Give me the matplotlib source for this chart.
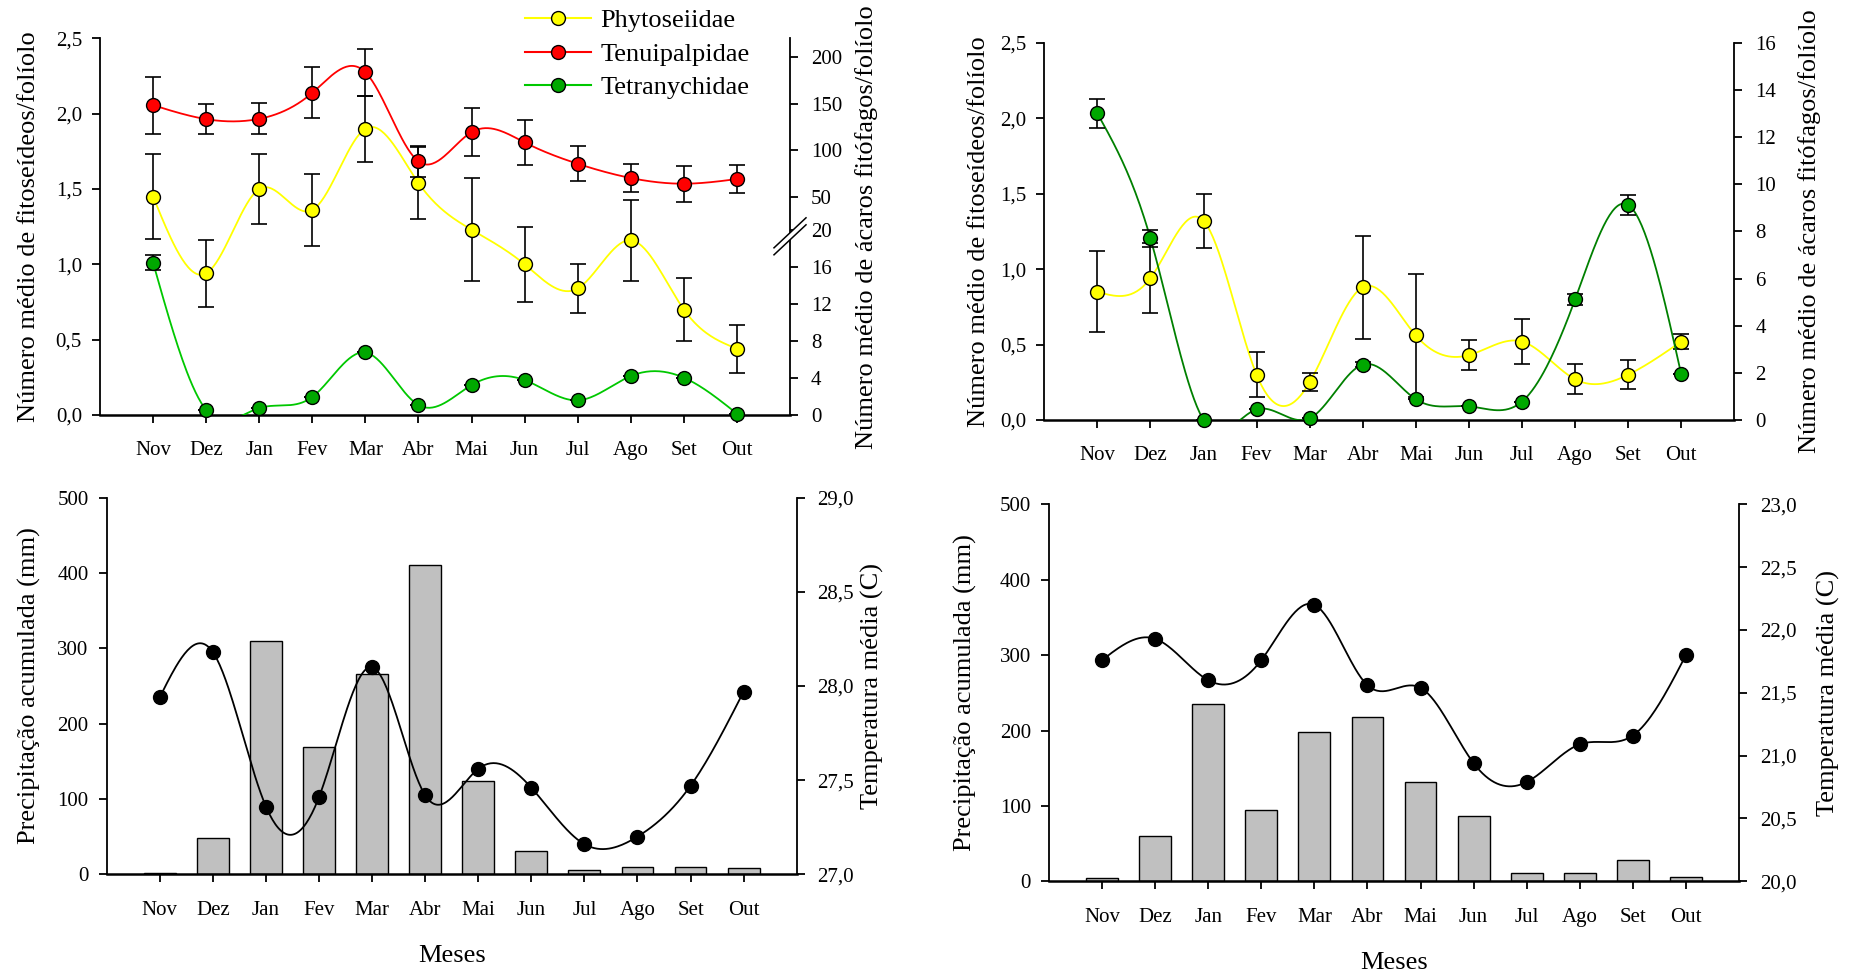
import numpy as np
import matplotlib
matplotlib.use('Agg')
import matplotlib.pyplot as plt
from matplotlib.ticker import FuncFormatter, FixedLocator
from matplotlib.lines import Line2D
from matplotlib.patches import Polygon

plt.rcParams['font.family'] = ['Liberation Serif', 'DejaVu Serif']

# ---------------- data ----------------
months = ['Nov', 'Dez', 'Jan', 'Fev', 'Mar', 'Abr', 'Mai', 'Jun', 'Jul', 'Ago', 'Set', 'Out']

# top-left panel
tl_phyto = [1.45, 0.94, 1.50, 1.36, 1.90, 1.54, 1.23, 1.00, 0.84, 1.16, 0.70, 0.44]
tl_phyto_err = [0.285, 0.22, 0.23, 0.24, 0.22, 0.24, 0.34, 0.25, 0.16, 0.27, 0.21, 0.16]
tl_tenui = [148.6, 133.6, 133.9, 161.8, 183.9, 88.2, 119.6, 108.6, 85.7, 70.4, 64.3, 69.3]
tl_tenui_err = [30.7, 16.0, 16.5, 27.5, 25.0, 17.0, 26.0, 24.0, 18.6, 15.0, 19.0, 15.0]
tl_tetra = [16.5, 0.54, 0.76, 1.95, 6.77, 1.08, 3.24, 3.78, 1.59, 4.22, 4.04, 0.14]
tl_tetra_err = [0.8, 0, 0, 0, 0, 0, 0, 0, 0, 0, 0, 0]

# top-right panel
tr_phyto = [0.85, 0.94, 1.32, 0.30, 0.25, 0.88, 0.56, 0.43, 0.52, 0.27, 0.30, 0.52]
tr_phyto_err = [0.27, 0.23, 0.18, 0.15, 0.06, 0.34, 0.41, 0.10, 0.15, 0.10, 0.095, 0.05]
tr_tetra = [13.0, 7.7, 0.0, 0.45, 0.07, 2.35, 0.88, 0.58, 0.78, 5.11, 9.12, 1.94]
tr_tetra_err = [0.63, 0.35, 0, 0, 0, 0.1, 0, 0, 0, 0.25, 0.44, 0]

# bottom-left panel
bl_rain = [1.3, 47.7, 309.6, 169.6, 265.5, 410.8, 123.7, 31.4, 6.2, 10.2, 10.2, 8.4]
bl_temp = [27.94, 28.18, 27.36, 27.41, 28.10, 27.42, 27.56, 27.46, 27.16, 27.20, 27.47, 27.97]

# bottom-right panel
br_rain = [4.0, 59.7, 235.2, 94.6, 198.0, 218.0, 132.2, 86.6, 11.0, 11.0, 27.9, 6.2]
br_temp = [21.76, 21.93, 21.60, 21.76, 22.20, 21.56, 21.54, 20.94, 20.79, 21.09, 21.16, 21.80]

# ---------------- helpers ----------------
YEL = '#FFFF00'
RED = '#FF0000'
GRN = '#00A800'
GRN_L1 = '#00C800'
GRN_L2 = '#008000'

W, H = 1859, 971
fig = plt.figure(figsize=(W / 100, H / 100), dpi=100)


def rect(l, r, b, t):
    return [l / W, 1 - b / H, (r - l) / W, (b - t) / H]


def spline(x, y, num=400):
    x = np.asarray(x, float)
    y = np.asarray(y, float)
    n = len(x)
    h = np.diff(x)
    A = np.zeros((n, n))
    b = np.zeros(n)
    A[0, 0] = 1
    A[-1, -1] = 1
    for i in range(1, n - 1):
        A[i, i - 1] = h[i - 1]
        A[i, i] = 2 * (h[i - 1] + h[i])
        A[i, i + 1] = h[i]
        b[i] = 6 * ((y[i + 1] - y[i]) / h[i] - (y[i] - y[i - 1]) / h[i - 1])
    M = np.linalg.solve(A, b)
    xs = np.linspace(x[0], x[-1], num)
    idx = np.clip(np.searchsorted(x, xs) - 1, 0, n - 2)
    t0 = x[idx]
    t1 = x[idx + 1]
    hh = t1 - t0
    a = (t1 - xs) / hh
    bb = (xs - t0) / hh
    ys = a * y[idx] + bb * y[idx + 1] + ((a ** 3 - a) * M[idx] + (bb ** 3 - bb) * M[idx + 1]) * hh ** 2 / 6
    return xs, ys


comma1 = FuncFormatter(lambda v, p: f"{v:.1f}".replace('.', ','))
TICK_FS = 15
LAB_FS = 19


def base_style(ax, tw, lab_l, lab_r, px_l, px_r, l_px, r_px):
    for a in (ax, tw):
        a.spines['top'].set_visible(False)
        a.set_xlim(-1, 12)
        a.set_xticks(range(12))
    ax.spines['right'].set_visible(False)
    tw.spines['left'].set_visible(False)
    tw.spines['bottom'].set_visible(False)
    ax.spines['bottom'].set_linewidth(1.8)
    ax.spines['left'].set_linewidth(1.3)
    tw.spines['right'].set_linewidth(1.3)
    ax.set_xticklabels(months)
    ax.tick_params(axis='x', direction='out', length=6, width=1.3, pad=13, labelsize=TICK_FS)
    ax.tick_params(axis='y', direction='out', length=6, width=1.3, pad=7, labelsize=TICK_FS)
    tw.tick_params(axis='y', direction='out', length=6, width=1.3, pad=9, labelsize=TICK_FS)
    ax.set_ylabel(lab_l, fontsize=LAB_FS)
    tw.set_ylabel(lab_r, fontsize=LAB_FS)
    width = r_px - l_px
    ax.yaxis.set_label_coords((px_l + 14 - l_px) / width, 0.5)
    tw.yaxis.set_label_coords((px_r - 14 - l_px) / width, 0.5)


x = np.arange(12)

# ================= top-left =================
ax = fig.add_axes(rect(100, 790, 415, 38.3))
tw = ax.twinx()
BRK_V = np.array([-1000.0, 0.0, 20.0, 50.0, 200.0, 2000.0])
BRK_L = np.array([-61.285, 0.0, 1.2257, 1.4466, 2.3742, 13.505])
fwd = lambda v: np.interp(v, BRK_V, BRK_L)
inv = lambda u: np.interp(u, BRK_L, BRK_V)
tw.set_yscale('function', functions=(fwd, inv))
ax.set_ylim(0, 2.5)
tw.set_ylim(0, float(inv(2.5)))
ax.yaxis.set_major_locator(FixedLocator([0, 0.5, 1.0, 1.5, 2.0, 2.5]))
ax.yaxis.set_major_formatter(comma1)
tw.yaxis.set_major_locator(FixedLocator([0, 4, 8, 12, 16, 20, 50, 100, 150, 200]))
tw.yaxis.set_major_formatter(FuncFormatter(lambda v, p: f"{v:.0f}"))
tw.yaxis.set_minor_locator(FixedLocator([]))
base_style(ax, tw, 'Número médio de fitoseídeos/folíolo',
           'Número médio de ácaros fitófagos/folíolo', 26, 869, 100, 790)

xs, ys = spline(x, tl_phyto)
ax.plot(xs, ys, color=YEL, lw=1.3, zorder=2)
ax.errorbar(x, tl_phyto, yerr=tl_phyto_err, fmt='none', ecolor='k', elinewidth=1.2,
            capsize=5.5, capthick=1.2, zorder=3)
ax.plot(x, tl_phyto, 'o', ms=10, mfc=YEL, mec='k', mew=1.0, zorder=4, clip_on=False)

xs, ys = spline(x, tl_tenui)
tw.plot(xs, ys, color=RED, lw=1.3, zorder=2)
tw.errorbar(x, tl_tenui, yerr=tl_tenui_err, fmt='none', ecolor='k', elinewidth=1.2,
            capsize=5.5, capthick=1.2, zorder=3)
tw.plot(x, tl_tenui, 'o', ms=10, mfc=RED, mec='k', mew=1.0, zorder=4, clip_on=False)

xs, ys = spline(x, tl_tetra)
tw.plot(xs, ys, color=GRN_L1, lw=1.3, zorder=2)
tw.errorbar(x, tl_tetra, yerr=tl_tetra_err, fmt='none', ecolor='k', elinewidth=1.2,
            capsize=5.5, capthick=1.2, zorder=3)
tw.plot(x, tl_tetra, 'o', ms=10, mfc=GRN, mec='k', mew=1.0, zorder=4, clip_on=False)

# axis break marks (figure pixel space)
yb = tw.transData.transform([[0, 20]])[0, 1] - 6
xb = tw.transAxes.transform([[1, 0]])[0, 0]
d = 3.5
poly = [(xb - 16, yb - 15 - d), (xb + 16, yb + 15 - d), (xb + 16, yb + 15 + d), (xb - 16, yb - 15 + d)]
fig.patches.append(Polygon([(px / W, py / H) for px, py in poly], closed=True,
                           transform=fig.transFigure, facecolor='white', edgecolor='none', zorder=5))
for off in (-d, d):
    fig.lines.append(Line2D([(xb - 16) / W, (xb + 16) / W],
                            [(yb - 15 + off) / H, (yb + 15 + off) / H],
                            transform=fig.transFigure, color='k', lw=1.1, zorder=6))

# legend
handles = [Line2D([], [], color=YEL, lw=1.5, marker='o', ms=10, mfc=YEL, mec='k'),
           Line2D([], [], color=RED, lw=1.5, marker='o', ms=10, mfc=RED, mec='k'),
           Line2D([], [], color=GRN_L1, lw=1.5, marker='o', ms=10, mfc=GRN, mec='k')]
fig.legend(handles, ['Phytoseiidae', 'Tenuipalpidae', 'Tetranychidae'], loc='upper left',
           bbox_to_anchor=(525 / W, 1 - 9 / H), frameon=False, fontsize=LAB_FS,
           handlelength=2.5, handletextpad=0.35, labelspacing=0.38, borderpad=0, borderaxespad=0)

# ================= top-right =================
ax = fig.add_axes(rect(1044.3, 1734.3, 420, 42.7))
tw = ax.twinx()
ax.set_ylim(0, 2.5)
tw.set_ylim(0, 16)
ax.yaxis.set_major_locator(FixedLocator([0, 0.5, 1.0, 1.5, 2.0, 2.5]))
ax.yaxis.set_major_formatter(comma1)
tw.yaxis.set_major_locator(FixedLocator(list(range(0, 17, 2))))
base_style(ax, tw, 'Número médio de fitoseídeos/folíolo',
           'Número médio de ácaros fitófagos/folíolo', 976, 1812, 1044.3, 1734.3)

xs, ys = spline(x, tr_phyto)
ax.plot(xs, ys, color=YEL, lw=1.3, zorder=2)
ax.errorbar(x, tr_phyto, yerr=tr_phyto_err, fmt='none', ecolor='k', elinewidth=1.2,
            capsize=5.5, capthick=1.2, zorder=3)
ax.plot(x, tr_phyto, 'o', ms=10, mfc=YEL, mec='k', mew=1.0, zorder=4, clip_on=False)

xs, ys = spline(x, tr_tetra)
tw.plot(xs, ys, color=GRN_L2, lw=1.3, zorder=2)
tw.errorbar(x, tr_tetra, yerr=tr_tetra_err, fmt='none', ecolor='k', elinewidth=1.2,
            capsize=5.5, capthick=1.2, zorder=3)
tw.plot(x, tr_tetra, 'o', ms=10, mfc=GRN, mec='k', mew=1.0, zorder=4, clip_on=False)

# ================= bottom panels =================
def bottom(l, r, b, t, rain, temp, tlim, lab_l_px, lab_r_px):
    ax = fig.add_axes(rect(l, r, b, t))
    tw = ax.twinx()
    ax.set_ylim(0, 500)
    tw.set_ylim(*tlim)
    ax.yaxis.set_major_locator(FixedLocator([0, 100, 200, 300, 400, 500]))
    tw.yaxis.set_major_locator(FixedLocator(np.arange(tlim[0], tlim[1] + 0.01, 0.5)))
    tw.yaxis.set_major_formatter(comma1)
    base_style(ax, tw, 'Precipitação acumulada (mm)', 'Temperatura média (C)',
               lab_l_px, lab_r_px, l, r)
    ax.bar(x, rain, width=0.6, color='#C0C0C0', edgecolor='k', linewidth=1.0, zorder=2)
    xs, ys = spline(x, temp)
    tw.plot(xs, ys, color='k', lw=1.3, zorder=3)
    tw.plot(x, temp, 'o', ms=10, color='k', zorder=4, clip_on=False)
    ax.set_xlabel('Meses', fontsize=LAB_FS, labelpad=18)
    return ax


bottom(106.7, 796.7, 874.3, 497.7, bl_rain, bl_temp, (27.0, 29.0), 27, 875)
bottom(1049, 1739, 881.3, 504.3, br_rain, br_temp, (20.0, 23.0), 963, 1831)

fig.savefig('out.png', dpi=100)
